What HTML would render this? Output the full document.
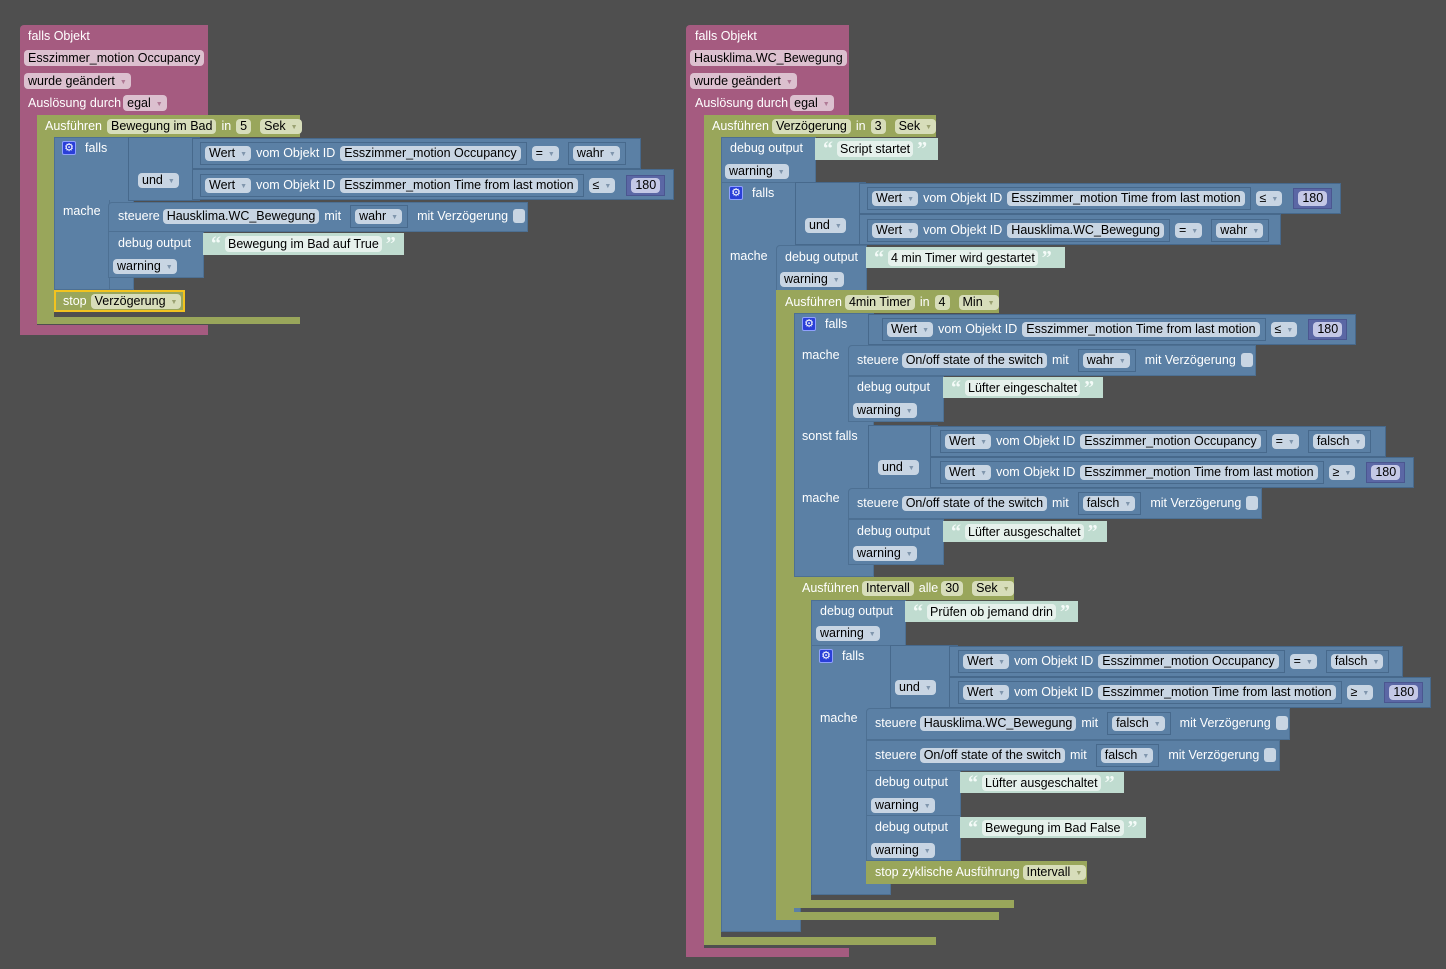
<!DOCTYPE html>
<html><head><meta charset="utf-8"><style>
body{margin:0;width:1446px;height:969px;background:#4f4f4f;position:relative;overflow:hidden;font:12.5px "Liberation Sans",Arial,sans-serif}
.x{position:absolute;box-sizing:border-box}
.p{background:#a55b80}
.o{background:#99a65b}
.b{background:#5b80a5;border:1px solid #4d7093}
.v{background:#5b80a5;border:1px solid #47698c}
.s{background:#c0dcd0;display:flex;align-items:center;gap:4px;padding-left:8px;color:#fff;z-index:2}
.s .sf{background:#e6f1ec;color:#000;border-radius:4px;padding:0 3px;height:16px;line-height:16px}
.s b{color:#f4fbf8;font-size:20px;font-weight:bold;font-family:"Liberation Serif",serif;line-height:16px;height:16px}
.r{position:absolute;display:flex;align-items:center;gap:5px;color:#fff;white-space:nowrap;height:16px;z-index:2}
.f{background:#c8d5e3;color:#000;border-radius:4px;padding:0 4px;height:15px;line-height:15px}
.fp{background:#dcc0cf;color:#000;border-radius:4px;padding:0 4px;height:16px;line-height:16px}
.fo{background:#d7ddba;color:#000;border-radius:4px;padding:0 4px;height:15px;line-height:15px}
.fn{background:#c4c8e6;color:#000;border-radius:4px;padding:0 4px;height:15px;line-height:15px}
.vb{display:inline-flex;align-items:center;gap:5px;background:#5b80a5;border:1px solid #47698c;padding:3px 5px 3px 4px}
.nb{display:inline-flex;align-items:center;background:#5b67a5;border:1px solid #4b5690;padding:2px 4px}
i{font-style:normal;font-size:7px;color:#8096ad;margin-left:5px;vertical-align:1px}
.fp i{color:#b07a96}.fo i{color:#9ba272}
.cb{display:inline-block;width:12px;height:14px;background:#c8d5e3;border-radius:3px}
.g{position:absolute;width:14px;height:14px;background:#2a3fd8;border:1px solid #8fa0ff;border-radius:2px;color:#fff;font-size:11px;line-height:12px;text-align:center;box-sizing:border-box;z-index:2}
</style></head><body>

<!-- ================= LEFT PROGRAM ================= -->
<div class="x p" style="left:20px;top:25px;width:188px;height:90px;border-radius:4px 0 0 0"></div>
<div class="x p" style="left:20px;top:115px;width:17px;height:212px"></div>
<div class="x p" style="left:20px;top:325px;width:188px;height:10px"></div>
<div class="r" style="left:28px;top:28px">falls Objekt</div>
<div class="r" style="left:24px;top:50px"><span class="fp">Esszimmer_motion Occupancy</span></div>
<div class="r" style="left:24px;top:73px"><span class="fp">wurde geändert<i>▼</i></span></div>
<div class="r" style="left:28px;top:95px">Auslösung durch<span class="fp" style="margin-left:-3px">egal<i>▼</i></span></div>

<div class="x o" style="left:37px;top:115px;width:263px;height:22px"></div>
<div class="x o" style="left:37px;top:137px;width:17px;height:182px"></div>
<div class="x o" style="left:37px;top:317px;width:263px;height:7px"></div>
<div class="r" style="left:45px;top:118px">Ausführen<span class="fo">Bewegung im Bad</span>in<span class="fo">5</span><span class="fo" style="margin-left:4px">Sek<i>▼</i></span></div>

<div class="x b" style="left:54px;top:137px;width:80px;height:153px"></div>
<div class="x v" style="left:128px;top:137px;width:72px;height:64px"></div>
<div class="x v" style="left:192px;top:138px;width:449px;height:31px"></div>
<div class="x v" style="left:192px;top:169px;width:482px;height:31px"></div>
<div class="g" style="left:62px;top:141px">⚙</div>
<div class="r" style="left:85px;top:140px">falls</div>
<div class="r" style="left:138px;top:172px"><span class="f">und<i>▼</i></span></div>
<div class="r" style="left:63px;top:203px">mache</div>
<div class="r" style="left:200px;top:145px"><span class="vb"><span class="f">Wert<i>▼</i></span>vom Objekt ID<span class="f">Esszimmer_motion Occupancy</span></span><span class="f" style="margin-left:0">=<i>▼</i></span><span class="vb" style="margin-left:4px"><span class="f">wahr<i>▼</i></span></span></div>
<div class="r" style="left:200px;top:177px"><span class="vb"><span class="f">Wert<i>▼</i></span>vom Objekt ID<span class="f">Esszimmer_motion Time from last motion</span></span><span class="f">≤<i>▼</i></span><span class="nb" style="margin-left:6px"><span class="fn">180</span></span></div>

<div class="x b" style="left:54px;top:200px;width:56px;height:90px;border-top:none"></div>
<div class="x b" style="left:108px;top:202px;width:420px;height:30px;border-radius:4px 0 0 0"></div>
<div class="r" style="left:118px;top:208px">steuere<span class="f" style="margin-left:-2px">Hausklima.WC_Bewegung</span>mit<span class="vb" style="margin-left:4px"><span class="f">wahr<i>▼</i></span></span><span style="margin-left:4px">mit Verzögerung</span><span class="cb"></span></div>
<div class="x b" style="left:108px;top:231px;width:96px;height:47px"></div>
<div class="x s" style="left:203px;top:233px;width:201px;height:22px"><b>“</b><span class="sf">Bewegung im Bad auf True</span><b>”</b></div>
<div class="r" style="left:118px;top:235px">debug output</div>
<div class="r" style="left:113px;top:258px"><span class="f">warning<i>▼</i></span></div>

<div class="x o" style="left:54px;top:290px;width:131px;height:22px;border:2px solid #f2c31f"></div>
<div class="r" style="left:63px;top:293px">stop<span class="fo" style="margin-left:-1px">Verzögerung<i>▼</i></span></div>

<!-- ================= RIGHT PROGRAM ================= -->
<div class="x p" style="left:686px;top:25px;width:163px;height:90px;border-radius:4px 0 0 0"></div>
<div class="x p" style="left:686px;top:115px;width:18px;height:835px"></div>
<div class="x p" style="left:686px;top:948px;width:163px;height:9px"></div>
<div class="r" style="left:695px;top:28px">falls Objekt</div>
<div class="r" style="left:690px;top:50px"><span class="fp">Hausklima.WC_Bewegung</span></div>
<div class="r" style="left:690px;top:73px"><span class="fp">wurde geändert<i>▼</i></span></div>
<div class="r" style="left:695px;top:95px">Auslösung durch<span class="fp" style="margin-left:-3px">egal<i>▼</i></span></div>

<div class="x o" style="left:704px;top:115px;width:232px;height:22px"></div>
<div class="x o" style="left:704px;top:137px;width:17px;height:802px"></div>
<div class="x o" style="left:704px;top:937px;width:232px;height:8px"></div>
<div class="r" style="left:712px;top:118px">Ausführen<span class="fo" style="margin-left:-2px">Verzögerung</span>in<span class="fo">3</span><span class="fo" style="margin-left:4px">Sek<i>▼</i></span></div>

<div class="x b" style="left:721px;top:137px;width:95px;height:46px"></div>
<div class="x s" style="left:815px;top:138px;width:123px;height:22px"><b>“</b><span class="sf">Script startet</span><b>”</b></div>
<div class="r" style="left:730px;top:140px">debug output</div>
<div class="r" style="left:725px;top:163px"><span class="f">warning<i>▼</i></span></div>

<!-- outer falls -->
<div class="x b" style="left:721px;top:182px;width:80px;height:750px"></div>
<div class="x v" style="left:795px;top:182px;width:71px;height:63px"></div>
<div class="x v" style="left:859px;top:183px;width:482px;height:31px"></div>
<div class="x v" style="left:859px;top:214px;width:422px;height:31px"></div>
<div class="g" style="left:729px;top:186px">⚙</div>
<div class="r" style="left:752px;top:185px">falls</div>
<div class="r" style="left:805px;top:217px"><span class="f">und<i>▼</i></span></div>
<div class="r" style="left:730px;top:248px">mache</div>
<div class="r" style="left:867px;top:190px"><span class="vb"><span class="f">Wert<i>▼</i></span>vom Objekt ID<span class="f">Esszimmer_motion Time from last motion</span></span><span class="f">≤<i>▼</i></span><span class="nb" style="margin-left:6px"><span class="fn">180</span></span></div>
<div class="r" style="left:867px;top:222px"><span class="vb"><span class="f">Wert<i>▼</i></span>vom Objekt ID<span class="f">Hausklima.WC_Bewegung</span></span><span class="f">=<i>▼</i></span><span class="vb" style="margin-left:4px"><span class="f">wahr<i>▼</i></span></span></div>

<div class="x b" style="left:776px;top:245px;width:91px;height:46px;border-radius:4px 0 0 0"></div>
<div class="x s" style="left:866px;top:247px;width:199px;height:21px"><b>“</b><span class="sf">4 min Timer wird gestartet</span><b>”</b></div>
<div class="r" style="left:785px;top:249px">debug output</div>
<div class="r" style="left:780px;top:271px"><span class="f">warning<i>▼</i></span></div>

<!-- 4min timer -->
<div class="x o" style="left:776px;top:290px;width:223px;height:23px"></div>
<div class="x o" style="left:776px;top:313px;width:18px;height:600px"></div>
<div class="x o" style="left:776px;top:912px;width:223px;height:8px"></div>
<div class="r" style="left:785px;top:294px">Ausführen<span class="fo" style="margin-left:-2px">4min Timer</span>in<span class="fo">4</span><span class="fo" style="margin-left:4px">Min<i>▼</i></span></div>

<div class="x b" style="left:794px;top:313px;width:80px;height:264px"></div>
<div class="x v" style="left:868px;top:314px;width:488px;height:31px"></div>
<div class="g" style="left:802px;top:317px">⚙</div>
<div class="r" style="left:825px;top:316px">falls</div>
<div class="r" style="left:882px;top:321px"><span class="vb"><span class="f">Wert<i>▼</i></span>vom Objekt ID<span class="f">Esszimmer_motion Time from last motion</span></span><span class="f">≤<i>▼</i></span><span class="nb" style="margin-left:6px"><span class="fn">180</span></span></div>
<div class="r" style="left:802px;top:347px">mache</div>
<div class="x b" style="left:848px;top:345px;width:408px;height:31px;border-radius:4px 0 0 0"></div>
<div class="r" style="left:857px;top:352px">steuere<span class="f" style="margin-left:-2px">On/off state of the switch</span>mit<span class="vb" style="margin-left:4px"><span class="f">wahr<i>▼</i></span></span><span style="margin-left:4px">mit Verzögerung</span><span class="cb"></span></div>
<div class="x b" style="left:848px;top:376px;width:96px;height:46px"></div>
<div class="x s" style="left:943px;top:377px;width:160px;height:21px"><b>“</b><span class="sf">Lüfter eingeschaltet</span><b>”</b></div>
<div class="r" style="left:857px;top:379px">debug output</div>
<div class="r" style="left:853px;top:402px"><span class="f">warning<i>▼</i></span></div>

<div class="r" style="left:802px;top:428px">sonst falls</div>
<div class="x v" style="left:868px;top:425px;width:70px;height:64px"></div>
<div class="x v" style="left:930px;top:426px;width:456px;height:31px"></div>
<div class="x v" style="left:930px;top:457px;width:484px;height:31px"></div>
<div class="r" style="left:878px;top:459px"><span class="f">und<i>▼</i></span></div>
<div class="r" style="left:940px;top:433px"><span class="vb"><span class="f">Wert<i>▼</i></span>vom Objekt ID<span class="f">Esszimmer_motion Occupancy</span></span><span class="f">=<i>▼</i></span><span class="vb" style="margin-left:4px"><span class="f">falsch<i>▼</i></span></span></div>
<div class="r" style="left:940px;top:464px"><span class="vb"><span class="f">Wert<i>▼</i></span>vom Objekt ID<span class="f">Esszimmer_motion Time from last motion</span></span><span class="f">≥<i>▼</i></span><span class="nb" style="margin-left:6px"><span class="fn">180</span></span></div>
<div class="r" style="left:802px;top:490px">mache</div>
<div class="x b" style="left:848px;top:488px;width:414px;height:31px;border-radius:4px 0 0 0"></div>
<div class="r" style="left:857px;top:495px">steuere<span class="f" style="margin-left:-2px">On/off state of the switch</span>mit<span class="vb" style="margin-left:4px"><span class="f">falsch<i>▼</i></span></span><span style="margin-left:4px">mit Verzögerung</span><span class="cb"></span></div>
<div class="x b" style="left:848px;top:519px;width:96px;height:46px"></div>
<div class="x s" style="left:943px;top:521px;width:164px;height:21px"><b>“</b><span class="sf">Lüfter ausgeschaltet</span><b>”</b></div>
<div class="r" style="left:857px;top:523px">debug output</div>
<div class="r" style="left:853px;top:545px"><span class="f">warning<i>▼</i></span></div>

<!-- Intervall -->
<div class="x o" style="left:794px;top:577px;width:220px;height:23px"></div>
<div class="x o" style="left:794px;top:600px;width:17px;height:302px"></div>
<div class="x o" style="left:794px;top:900px;width:220px;height:8px"></div>
<div class="r" style="left:802px;top:580px">Ausführen<span class="fo" style="margin-left:-2px">Intervall</span>alle<span class="fo" style="margin-left:-2px">30</span><span class="fo" style="margin-left:4px">Sek<i>▼</i></span></div>

<div class="x b" style="left:811px;top:600px;width:95px;height:46px"></div>
<div class="x s" style="left:905px;top:601px;width:173px;height:21px"><b>“</b><span class="sf">Prüfen ob jemand drin</span><b>”</b></div>
<div class="r" style="left:820px;top:603px">debug output</div>
<div class="r" style="left:816px;top:625px"><span class="f">warning<i>▼</i></span></div>

<div class="x b" style="left:811px;top:645px;width:80px;height:250px"></div>
<div class="x v" style="left:890px;top:645px;width:68px;height:63px"></div>
<div class="x v" style="left:949px;top:646px;width:454px;height:31px"></div>
<div class="x v" style="left:949px;top:677px;width:482px;height:31px"></div>
<div class="g" style="left:819px;top:649px">⚙</div>
<div class="r" style="left:842px;top:648px">falls</div>
<div class="r" style="left:895px;top:679px"><span class="f">und<i>▼</i></span></div>
<div class="r" style="left:958px;top:653px"><span class="vb"><span class="f">Wert<i>▼</i></span>vom Objekt ID<span class="f">Esszimmer_motion Occupancy</span></span><span class="f">=<i>▼</i></span><span class="vb" style="margin-left:4px"><span class="f">falsch<i>▼</i></span></span></div>
<div class="r" style="left:958px;top:684px"><span class="vb"><span class="f">Wert<i>▼</i></span>vom Objekt ID<span class="f">Esszimmer_motion Time from last motion</span></span><span class="f">≥<i>▼</i></span><span class="nb" style="margin-left:6px"><span class="fn">180</span></span></div>
<div class="r" style="left:820px;top:710px">mache</div>

<div class="x b" style="left:866px;top:708px;width:424px;height:32px;border-radius:4px 0 0 0"></div>
<div class="r" style="left:875px;top:715px">steuere<span class="f" style="margin-left:-2px">Hausklima.WC_Bewegung</span>mit<span class="vb" style="margin-left:4px"><span class="f">falsch<i>▼</i></span></span><span style="margin-left:4px">mit Verzögerung</span><span class="cb"></span></div>
<div class="x b" style="left:866px;top:740px;width:414px;height:31px"></div>
<div class="r" style="left:875px;top:747px">steuere<span class="f" style="margin-left:-2px">On/off state of the switch</span>mit<span class="vb" style="margin-left:4px"><span class="f">falsch<i>▼</i></span></span><span style="margin-left:4px">mit Verzögerung</span><span class="cb"></span></div>
<div class="x b" style="left:866px;top:770px;width:95px;height:46px"></div>
<div class="x s" style="left:960px;top:772px;width:164px;height:21px"><b>“</b><span class="sf">Lüfter ausgeschaltet</span><b>”</b></div>
<div class="r" style="left:875px;top:774px">debug output</div>
<div class="r" style="left:871px;top:797px"><span class="f">warning<i>▼</i></span></div>
<div class="x b" style="left:866px;top:815px;width:95px;height:46px"></div>
<div class="x s" style="left:960px;top:817px;width:186px;height:21px"><b>“</b><span class="sf">Bewegung im Bad False</span><b>”</b></div>
<div class="r" style="left:875px;top:819px">debug output</div>
<div class="r" style="left:871px;top:842px"><span class="f">warning<i>▼</i></span></div>
<div class="x o" style="left:866px;top:861px;width:221px;height:23px"></div>
<div class="r" style="left:875px;top:864px">stop zyklische Ausführung<span class="fo" style="margin-left:-2px">Intervall<i>▼</i></span></div>

</body></html>
